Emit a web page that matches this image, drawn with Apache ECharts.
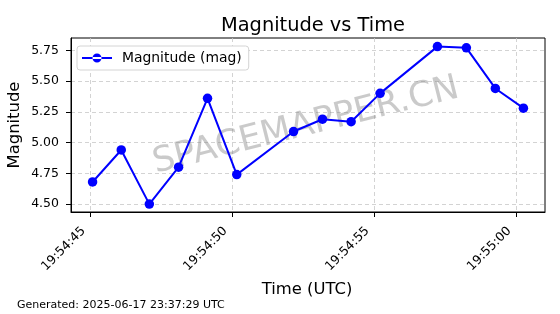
<!DOCTYPE html>
<html>
<head>
<meta charset="utf-8">
<script src="https://cdn.jsdelivr.net/npm/echarts@6/dist/echarts.min.js"></script>
<style>html,body{margin:0;padding:0;background:#fff}#c{width:560px;height:314px}</style>
</head>
<body>
<div id="c"></div>
<script>
// seconds after 19:54:00 UTC
var timeSeconds = [45.07, 46.08, 47.07, 48.10, 49.12, 50.15, 52.15, 53.17, 54.18, 55.20, 57.22, 58.24, 59.26, 60.25];
var magnitudes = [4.68, 4.94, 4.50, 4.80, 5.36, 4.74, 5.09, 5.19, 5.17, 5.40, 5.78, 5.77, 5.44, 5.28];
var xTicks = [45, 50, 55, 60];
var xTickLabels = ['19:54:45', '19:54:50', '19:54:55', '19:55:00'];
var yTicks = [4.50, 4.75, 5.00, 5.25, 5.50, 5.75];
var yTickLabels = ['4.50', '4.75', '5.00', '5.25', '5.50', '5.75'];

var seriesData = timeSeconds.map(function (t, i) { return [t, magnitudes[i]]; });
var font = 'DejaVu Sans';
var chart = echarts.init(document.getElementById('c'), null, { renderer: 'canvas' });
chart.setOption({
  animation: false,
  textStyle: { fontFamily: font },
  grid: { left: 71, right: 15, top: 38, bottom: 102, show: true, borderColor: '#000', borderWidth: 1, backgroundColor: 'transparent' },
  title: {
    text: 'Magnitude vs Time', left: 308, top: 11, textAlign: 'center',
    textStyle: { fontFamily: font, fontSize: 19.4, fontWeight: 'normal', color: '#000' }
  },
  legend: {
    show: true, left: 77, top: 46, orient: 'vertical',
    padding: [5, 7, 5, 5], itemWidth: 30, itemHeight: 10,
    backgroundColor: '#fff', borderColor: '#d4d4d4', borderWidth: 1, borderRadius: 3,
    textStyle: { fontFamily: font, fontSize: 13.9, color: '#000', padding: [0, 0, 0, 5] },
    data: [{ name: 'Magnitude (mag)', icon: 'path://M0,4 L30,4 L30,6 L0,6 Z M10.5,5 A4.5,4.5 0 1 0 19.5,5 A4.5,4.5 0 1 0 10.5,5 Z' }]
  },
  xAxis: {
    type: 'value', min: 44.31, max: 61.01,
    axisLine: { show: true, lineStyle: { color: '#000', width: 1 } },
    axisTick: { show: true, inside: false, length: 5, customValues: xTicks, lineStyle: { color: '#000' } },
    axisLabel: {
      customValues: xTicks, rotate: 45, margin: 10, padding: [0, 10, 0, 0], fontSize: 12.5, color: '#000', fontFamily: font,
      formatter: function (v) { var i = xTicks.indexOf(Math.round(v)); return i >= 0 ? xTickLabels[i] : ''; }
    },
    splitLine: { show: true, lineStyle: { color: '#c8c8c8', type: [4, 3], width: 0.8 } }
  },
  yAxis: {
    type: 'value', min: 4.436, max: 5.85,
    axisLine: { show: true, lineStyle: { color: '#000', width: 1 } },
    axisTick: { show: true, inside: false, length: 5, customValues: yTicks, lineStyle: { color: '#000' } },
    axisLabel: {
      customValues: yTicks, margin: 12, fontSize: 12.5, color: '#000', fontFamily: font,
      formatter: function (v) { var i = yTicks.indexOf(Math.round(v * 100) / 100); return i >= 0 ? yTickLabels[i] : ''; }
    },
    splitLine: { show: true, lineStyle: { color: '#c8c8c8', type: [4, 3], width: 0.8 } }
  },
  graphic: [
    { type: 'text', x: 306, y: 126, z: 1, silent: true, rotation: 14 * Math.PI / 180,
      style: { text: 'SPACEMAPPER.CN', fontFamily: font, fontSize: 35, fill: 'rgba(128,128,128,0.42)', textAlign: 'center', textVerticalAlign: 'middle' } },
    { type: 'text', x: 307, y: 290, silent: true,
      style: { text: 'Time (UTC)', fontFamily: font, fontSize: 16.4, fill: '#000', textAlign: 'center', textVerticalAlign: 'middle' } },
    { type: 'text', x: 15, y: 125, rotation: Math.PI / 2, silent: true,
      style: { text: 'Magnitude', fontFamily: font, fontSize: 16.4, fill: '#000', textAlign: 'center', textVerticalAlign: 'middle' } },
    { type: 'text', x: 17, y: 305, silent: true,
      style: { text: 'Generated: 2025-06-17 23:37:29 UTC', fontFamily: font, fontSize: 11, fill: '#000', textAlign: 'left', textVerticalAlign: 'middle' } }
  ],
  series: [{
    name: 'Magnitude (mag)', type: 'line', data: seriesData,
    symbol: 'circle', symbolSize: 9.5,
    itemStyle: { color: '#0000ff' },
    lineStyle: { color: '#0000ff', width: 2 },
    z: 3
  }]
});
</script>
</body>
</html>
